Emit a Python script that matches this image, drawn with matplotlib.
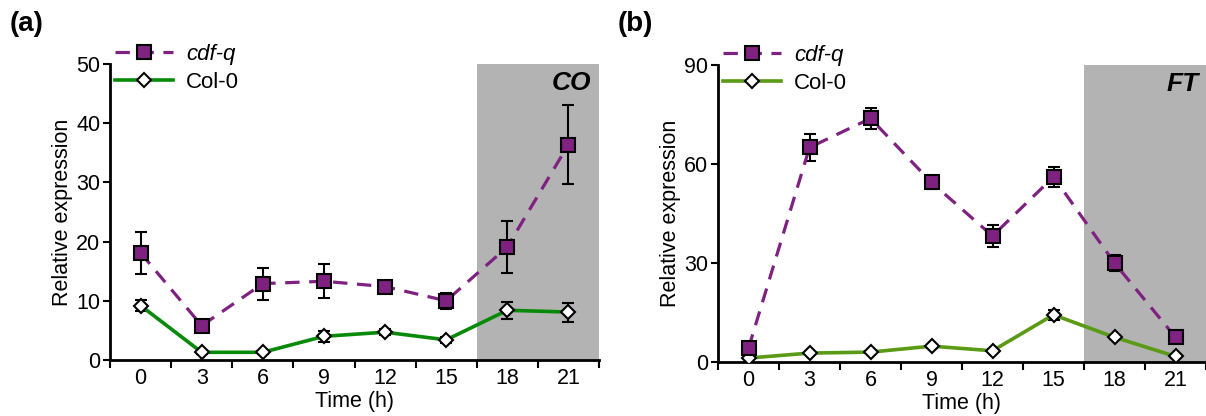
import matplotlib
matplotlib.use("Agg")
import matplotlib.pyplot as plt
import numpy as np

plt.rcParams['font.family'] = ['Liberation Sans', 'DejaVu Sans']

time = [0, 3, 6, 9, 12, 15, 18, 21]

# Panel (a) CO
co_cdfq = [18.1, 5.8, 12.9, 13.3, 12.4, 10.0, 19.1, 36.4]
co_cdfq_err = [3.6, 0.5, 2.7, 2.9, 1.0, 1.4, 4.4, 6.6]
co_col0 = [9.2, 1.3, 1.3, 4.0, 4.7, 3.4, 8.4, 8.1]
co_col0_err = [0.9, 0.3, 0.3, 0.9, 0.5, 0.5, 1.4, 1.6]

# Panel (b) FT
ft_cdfq = [4.2, 65.0, 73.8, 54.4, 38.2, 56.1, 30.0, 7.5]
ft_cdfq_err = [1.5, 4.0, 3.3, 2.0, 3.2, 3.0, 2.5, 1.0]
ft_col0 = [1.2, 2.7, 3.0, 4.8, 3.4, 14.3, 7.5, 1.7]
ft_col0_err = [0.3, 0.4, 0.4, 0.5, 0.4, 1.5, 0.6, 0.3]

purple = '#7E2180'
green_a = '#078A07'
green_b = '#5A9A14'
gray = '#B3B3B3'

FS = 15.5

fig = plt.figure(figsize=(12.06, 4.16), dpi=100)
W, H = 1206, 416
ax_a = fig.add_axes([110 / W, 1 - 360 / H, (599 - 110) / W, (360 - 64) / H])
ax_b = fig.add_axes([718 / W, 1 - 362 / H, (1206 - 718) / W, (362 - 65) / H])


def draw(ax, cdfq, cdfq_err, col0, col0_err, green, ymax, yticks, gene, label):
    ax.axvspan(16.5, 22.5, color=gray, zorder=0, lw=0)
    ax.errorbar(time, col0, yerr=col0_err, fmt='none', ecolor='black',
                elinewidth=1.5, capsize=4, capthick=1.5, zorder=2)
    ax.errorbar(time, cdfq, yerr=cdfq_err, fmt='none', ecolor='black',
                elinewidth=1.5, capsize=4, capthick=1.5, zorder=2)
    ax.plot(time, col0, color=green, lw=2.6, zorder=3, marker='D',
            markersize=7.5, markerfacecolor='white', markeredgecolor='black',
            markeredgewidth=1.5, label='Col-0')
    ax.plot(time, cdfq, color=purple, lw=2.3, linestyle=(0, (4.5, 3)), zorder=4,
            marker='s', markersize=9.5, markerfacecolor=purple,
            markeredgecolor='black', markeredgewidth=1.5, label='cdf-q')
    ax.set_xlim(-1.5, 22.5)
    ax.set_ylim(0, ymax)
    ax.set_yticks(yticks)
    ax.set_xticks(time)
    ax.set_xticks(np.arange(-1.5, 23, 3), minor=True)
    ax.tick_params(axis='x', which='major', length=0, labelsize=FS, pad=6)
    ax.tick_params(axis='x', which='minor', length=6, width=1.5, direction='out')
    ax.tick_params(axis='y', length=5, width=1.5, labelsize=FS, pad=2)
    for s in ['top', 'right']:
        ax.spines[s].set_visible(False)
    for s in ['left', 'bottom']:
        ax.spines[s].set_linewidth(2)
    ax.set_xlabel('Time (h)', fontsize=FS, labelpad=1)
    ax.set_ylabel('Relative expression', fontsize=FS, labelpad=2)
    ax.text(0.985, 0.935, gene, transform=ax.transAxes, ha='right', va='center',
            fontsize=19, fontweight='bold', fontstyle='italic')
    handles, labels = ax.get_legend_handles_labels()
    leg = ax.legend(handles[::-1], labels[::-1], loc='center left',
                    bbox_to_anchor=(0.01, 0.985), frameon=False, fontsize=16,
                    handlelength=2.6, handletextpad=0.6, labelspacing=0.3,
                    borderaxespad=0, borderpad=0)
    leg.get_texts()[0].set_fontstyle('italic')
    fig.text(ax.get_position().x0 - 100 / W, 1 - 24 / H, label,
             fontsize=20, fontweight='bold', va='center', ha='left')


draw(ax_a, co_cdfq, co_cdfq_err, co_col0, co_col0_err, green_a, 50,
     [0, 10, 20, 30, 40, 50], 'CO', '(a)')
draw(ax_b, ft_cdfq, ft_cdfq_err, ft_col0, ft_col0_err, green_b, 90,
     [0, 30, 60, 90], 'FT', '(b)')

fig.savefig('out.png', dpi=100)
